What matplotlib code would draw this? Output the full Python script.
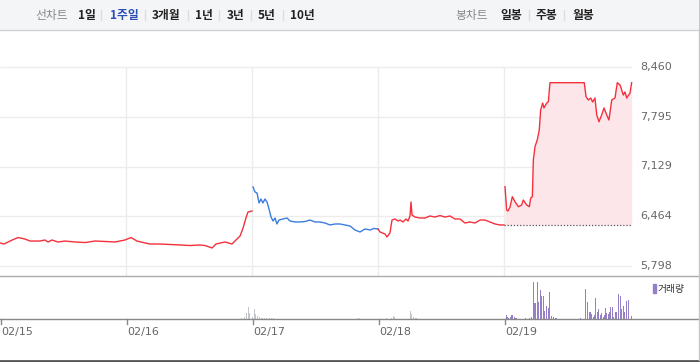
import matplotlib.pyplot as plt
from matplotlib.patches import Rectangle
from matplotlib.lines import Line2D

plt.rcParams['font.family'] = ['Noto Sans CJK KR', 'DejaVu Sans']

# ---- data (x = days since 02/15) ----
day_labels = ["02/15", "02/16", "02/17", "02/18", "02/19"]
y_ticks = [5798, 6464, 7129, 7795, 8460]
prev_close = 6347

t_a = [0.000, 0.032, 0.079, 0.143, 0.198, 0.238, 0.317, 0.357, 0.381, 0.413, 0.460, 0.516, 0.595,
       0.675, 0.754, 0.833, 0.913, 0.992, 1.040, 1.087, 1.151, 1.190, 1.270, 1.349, 1.429, 1.508,
       1.587, 1.627, 1.683, 1.714, 1.786, 1.841, 1.873, 1.905, 1.929, 1.952, 1.968, 2.000]
p_a = [6106, 6092, 6132, 6179, 6159, 6132, 6132, 6146, 6119, 6146, 6119, 6132, 6119,
       6112, 6132, 6126, 6119, 6146, 6179, 6132, 6106, 6092, 6092, 6086, 6079, 6072,
       6079, 6072, 6039, 6092, 6119, 6092, 6146, 6199, 6306, 6440, 6520, 6534]

t_b = [2.008, 2.024, 2.040, 2.056, 2.071, 2.087, 2.103, 2.119, 2.135, 2.151, 2.167, 2.183, 2.198,
       2.214, 2.246, 2.278, 2.302, 2.341, 2.381, 2.421, 2.460, 2.500, 2.540, 2.579, 2.619, 2.659,
       2.698, 2.738, 2.778, 2.817, 2.857, 2.897, 2.937, 2.968, 3.000]
p_b = [6855, 6788, 6774, 6641, 6694, 6641, 6694, 6654, 6560, 6453, 6400, 6440, 6360,
       6413, 6427, 6440, 6400, 6387, 6387, 6393, 6413, 6387, 6387, 6373, 6347, 6360,
       6360, 6347, 6333, 6280, 6253, 6293, 6280, 6300, 6293]

t_c = [3.000, 3.016, 3.056, 3.071, 3.095, 3.111, 3.135, 3.159, 3.175, 3.198, 3.222, 3.238, 3.254,
       3.262, 3.270, 3.294, 3.333, 3.373, 3.413, 3.452, 3.492, 3.532, 3.571, 3.611, 3.651,
       3.690, 3.730, 3.770, 3.810, 3.849, 3.889, 3.929, 3.968, 4.000]
p_c = [6293, 6253, 6226, 6186, 6240, 6413, 6427, 6400, 6413, 6387, 6427, 6400, 6467,
       6654, 6480, 6453, 6440, 6440, 6467, 6453, 6473, 6453, 6467, 6427, 6427,
       6373, 6387, 6373, 6413, 6413, 6387, 6360, 6347, 6347]

t_d = [4.008, 4.021, 4.032, 4.048, 4.066, 4.087, 4.114, 4.140, 4.153, 4.180, 4.201, 4.212, 4.225,
       4.233, 4.246, 4.264, 4.280, 4.291, 4.307, 4.317, 4.339, 4.352, 4.365, 4.637, 4.651,
       4.669, 4.688, 4.704, 4.722, 4.736, 4.754, 4.775, 4.794, 4.815, 4.833, 4.855, 4.881,
       4.899, 4.921, 4.947, 4.960, 4.974, 5.000, 5.013]
p_d = [6859, 6547, 6534, 6587, 6725, 6658, 6591, 6614, 6681, 6614, 6591, 6708, 6725,
       7216, 7394, 7484, 7617, 7885, 7978, 7912, 7978, 7995, 8250, 8250, 8063,
       8019, 8045, 7992, 8045, 7818, 7728, 7818, 7912, 7818, 7751, 8019, 8045,
       8250, 8219, 8085, 8126, 8045, 8112, 8250]

# volume (thousand shares)
vt_gray = [1.918, 1.937, 1.958, 1.971, 1.984, 2.006, 2.018, 2.029, 2.042, 2.056, 2.077, 2.087,
           2.103, 2.119, 2.135, 2.156, 2.167, 2.836, 2.852, 3.069, 3.108, 3.122, 3.130, 3.254,
           3.267, 3.280, 3.294, 3.307]
v_gray = [1, 2, 6, 11.7, 6, 2, 10.3, 5, 3, 2, 1, 1, 1, 1, 1, 1, 1, 1, 1, 1, 1.5, 3, 2, 7.7,
          5, 2, 1, 1]
vt_up = [4.016, 4.026, 4.037, 4.048, 4.061, 4.069, 4.082, 4.093, 4.101, 4.167, 4.172, 4.206,
         4.220, 4.233, 4.246, 4.264, 4.275, 4.288, 4.299, 4.312, 4.325, 4.339, 4.352, 4.365,
         4.378, 4.392, 4.405, 4.418, 4.611, 4.648, 4.661, 4.675, 4.685, 4.696, 4.709, 4.720,
         4.728, 4.741, 4.751, 4.762, 4.775, 4.788, 4.796, 4.807, 4.817, 4.828, 4.839, 4.849,
         4.860, 4.871, 4.881, 4.894, 4.907, 4.921, 4.934, 4.947, 4.960, 4.974, 4.987, 5.013]
v_up = [4.3, 2, 1.5, 2, 4, 4, 2, 1.5, 1, 1.5, 1.5, 1, 2, 36.7, 16, 36.7, 16.7, 29.3, 22.7,
        22.7, 7.7, 13.3, 11.3, 27.3, 2.7, 2, 1.5, 1, 1, 30.3, 17.3, 7.3, 6.7, 5, 2, 4, 21.3,
        6.7, 10, 4.3, 6, 2, 4.3, 10.7, 6.3, 5, 7.3, 12, 12, 2, 7.3, 7.3, 25.3, 22.7, 10,
        13.3, 7.3, 18.3, 19.3, 3.3]

RED = '#f5303c'
BLUE = '#3b7ddd'
FILL = '#fde6e9'
GRID = '#ececec'
TXT = '#666666'

W, H = 700, 362
fig = plt.figure(figsize=(W / 100, H / 100), dpi=100)
fig.patch.set_facecolor('white')


def fx(px):
    return px / W


def fy(py):
    return 1 - py / H


x_max = 698 / 126
grid_end = 632 / 126

# ---- price panel ----
ax = fig.add_axes([0, fy(276), fx(698), fy(36) - fy(276)])
per_px = (8460 - 5798) / 199
y_bot = 5798 - 10 * per_px
y_top = 8460 + 31 * per_px
ax.set_xlim(0, x_max)
ax.set_ylim(y_bot, y_top)
ax.axis('off')

ax.hlines(y_ticks, 0, grid_end, color=GRID, lw=1, zorder=0)
ax.vlines([1, 2, 3, 4], y_bot, 8460, color=GRID, lw=1, zorder=0)
for v in y_ticks:
    ax.text(640 / 126, v, f"{v:,}", color=TXT, fontsize=8, va='center', ha='left',
            family=['DejaVu Sans'])

ax.fill_between(t_d, p_d, prev_close, color=FILL, lw=0, zorder=1)
ax.hlines(prev_close, 4.0, t_d[-1], color='#555555', lw=0.9, linestyles=(0, (1, 1.5)), zorder=2)
ax.plot(t_a, p_a, color=RED, lw=1, zorder=3)
ax.plot(t_b, p_b, color=BLUE, lw=1, zorder=3)
ax.plot(t_c, p_c, color=RED, lw=1, zorder=3)
ax.plot(t_d, p_d, color=RED, lw=1, zorder=3)

# ---- volume panel ----
vax = fig.add_axes([0, fy(319), fx(698), fy(276) - fy(319)])
vax.set_xlim(0, x_max)
vax.set_ylim(0, 43)
vax.axis('off')
vax.bar(vt_gray, v_gray, width=0.008, color='#c3c6cc', align='center')
vax.bar(vt_up, v_up, width=0.008, color='#9580c8', align='center')

# x tick labels and marks
for i, lab in enumerate(day_labels):
    x = fx(i * 126 + 0.5)
    fig.add_artist(Line2D([x, x], [fy(319), fy(324)], color='#888888', lw=1))
    fig.text(fx(i * 126 + 1), fy(332), lab, color=TXT, fontsize=8, va='center', ha='left',
             family=['DejaVu Sans'])

# volume legend
fig.add_artist(Rectangle((fx(653), fy(293)), fx(3), fy(284) - fy(293), color='#9580c8'))
fig.text(fx(658), fy(289), "거래량", fontsize=7, color='#333333', va='center', ha='left')

# panel lines
fig.add_artist(Line2D([0, fx(698)], [fy(276), fy(276)], color='#aaaaaa', lw=1))
fig.add_artist(Line2D([0, fx(698)], [fy(319), fy(319)], color='#888888', lw=1))
fig.add_artist(Line2D([0, 1], [fy(360.5), fy(360.5)], color='#555555', lw=2))
fig.add_artist(Line2D([fx(698.5), fx(698.5)], [fy(360), 1], color='#c8c8c8', lw=1))

# ---- toolbar ----
fig.add_artist(Rectangle((0, fy(30)), fx(698), fy(0) - fy(30), color='#f4f5f7', lw=0))
fig.add_artist(Line2D([0, fx(698)], [fy(30), fy(30)], color='#cfd2d6', lw=1))

items = [("선차트", 35, '#888888', 'normal'), ("1일", 78, '#222222', 'bold'),
         ("1주일", 110, '#2b4eb5', 'bold'), ("3개월", 152, '#222222', 'bold'),
         ("1년", 195, '#222222', 'bold'), ("3년", 227, '#222222', 'bold'),
         ("5년", 258, '#222222', 'bold'), ("10년", 290, '#222222', 'bold'),
         ("봉차트", 455, '#888888', 'normal'), ("일봉", 500, '#222222', 'bold'),
         ("주봉", 536, '#222222', 'bold'), ("월봉", 572, '#222222', 'bold')]
for label, x, c, w in items:
    fig.text(fx(x), fy(15), label, color=c, fontsize=8.5, fontweight=w, va='center', ha='left')

for x in [101, 145, 188, 219, 251, 283, 529, 564]:
    fig.add_artist(Line2D([fx(x), fx(x)], [fy(10), fy(20)], color='#dddddd', lw=1))

fig.savefig('out.png', dpi=100, facecolor='white')
